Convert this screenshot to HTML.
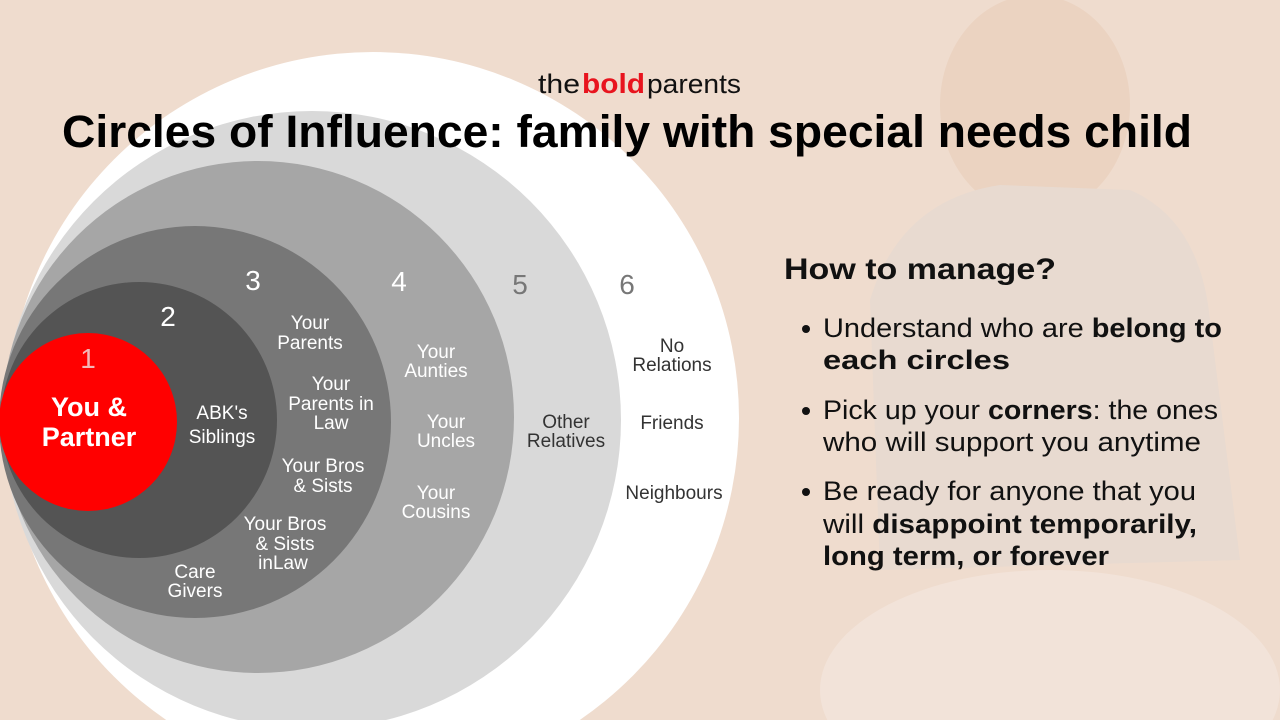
<!DOCTYPE html>
<html><head><meta charset="utf-8"><style>
html,body{margin:0;padding:0;width:1280px;height:720px;overflow:hidden;background:#efdcce}
svg{display:block;overflow:hidden}
text{font-family:"Liberation Sans",sans-serif}
</style></head><body>
<svg width="1280" height="720" viewBox="0 0 1280 720" xmlns="http://www.w3.org/2000/svg">
<rect width="1280" height="720" fill="#efdcce"/>
<!-- faint background photo shapes -->
<ellipse cx="1035" cy="105" rx="95" ry="110" fill="#ebd3c1"/>
<path d="M870 300 Q900 200 1000 185 L1130 190 Q1200 220 1210 320 L1240 560 L880 570 Z" fill="#e8dad0"/>
<ellipse cx="1050" cy="690" rx="230" ry="120" fill="#f2e3d9"/>
<!-- circles -->
<circle cx="373" cy="418" r="366" fill="#ffffff"/>
<circle cx="312" cy="420" r="309" fill="#d9d9d9"/>
<circle cx="258" cy="417" r="256" fill="#a6a6a6"/>
<circle cx="195" cy="422" r="196" fill="#777777"/>
<circle cx="139" cy="420" r="138" fill="#545454"/>
<circle cx="88" cy="422" r="89" fill="#ff0000"/>
<!-- logo -->
<text x="538" y="93" font-size="27" fill="#111" textLength="42" lengthAdjust="spacingAndGlyphs">the</text>
<text x="582" y="93" font-size="28" font-weight="bold" fill="#e8141e" textLength="63" lengthAdjust="spacingAndGlyphs">bold</text>
<text x="647" y="93" font-size="27" fill="#111" textLength="94" lengthAdjust="spacingAndGlyphs">parents</text>
<!-- title -->
<text x="62" y="147" font-size="45" font-weight="bold" fill="#000" textLength="1130" lengthAdjust="spacingAndGlyphs">Circles of Influence: family with special needs child</text>
<!-- numbers -->
<g font-size="28" text-anchor="middle" fill="#fff">
<text x="88" y="368" fill="#f2b8b8">1</text>
<text x="168" y="326">2</text>
<text x="253" y="290">3</text>
<text x="399" y="291">4</text>
<text x="520" y="294" fill="#777">5</text>
<text x="627" y="294" fill="#777">6</text>
</g>
<!-- you & partner -->
<g font-size="27" font-weight="bold" fill="#fff" text-anchor="middle">
<text x="89" y="416">You &amp;</text>
<text x="89" y="446">Partner</text>
</g>
<g font-size="19" fill="#fff" text-anchor="middle">
<text x="222" y="419">ABK's</text><text x="222" y="443">Siblings</text>
<text x="310" y="329">Your</text><text x="310" y="349">Parents</text>
<text x="331" y="390">Your</text><text x="331" y="410">Parents in</text><text x="331" y="429">Law</text>
<text x="323" y="472">Your Bros</text><text x="323" y="492">&amp; Sists</text>
<text x="285" y="530">Your Bros</text><text x="285" y="550">&amp; Sists</text><text x="283" y="569">inLaw</text>
<text x="195" y="578">Care</text><text x="195" y="597">Givers</text>
<text x="436" y="358">Your</text><text x="436" y="377">Aunties</text>
<text x="446" y="428">Your</text><text x="446" y="447">Uncles</text>
<text x="436" y="499">Your</text><text x="436" y="518">Cousins</text>
</g>
<g font-size="19" fill="#333" text-anchor="middle">
<text x="566" y="428">Other</text><text x="566" y="447">Relatives</text>
<text x="672" y="352">No</text><text x="672" y="371">Relations</text>
<text x="672" y="429">Friends</text>
<text x="674" y="499">Neighbours</text>
</g>
<!-- right text -->
<text x="784" y="279" font-size="30" font-weight="bold" fill="#111" textLength="272" lengthAdjust="spacingAndGlyphs">How to manage?</text>
<g font-size="27" fill="#111">
<circle cx="806" cy="329" r="4" fill="#111"/>
<text x="823" y="337" textLength="399" lengthAdjust="spacingAndGlyphs">Understand who are <tspan font-weight="bold">belong to</tspan></text>
<text x="823" y="369" font-weight="bold" textLength="187" lengthAdjust="spacingAndGlyphs">each circles</text>
<circle cx="806" cy="411" r="4" fill="#111"/>
<text x="823" y="419" textLength="395" lengthAdjust="spacingAndGlyphs">Pick up your <tspan font-weight="bold">corners</tspan>: the ones</text>
<text x="823" y="451" textLength="378" lengthAdjust="spacingAndGlyphs">who will support you anytime</text>
<circle cx="806" cy="492" r="4" fill="#111"/>
<text x="823" y="500" textLength="373" lengthAdjust="spacingAndGlyphs">Be ready for anyone that you</text>
<text x="823" y="533" textLength="374" lengthAdjust="spacingAndGlyphs">will <tspan font-weight="bold">disappoint temporarily,</tspan></text>
<text x="823" y="565" font-weight="bold" textLength="286" lengthAdjust="spacingAndGlyphs">long term, or forever</text>
</g>
</svg>
</body></html>
